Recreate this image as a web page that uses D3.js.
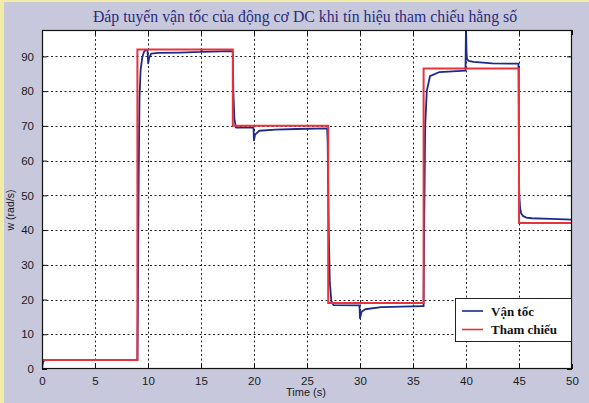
<!DOCTYPE html>
<html>
<head>
<meta charset="utf-8">
<script src="https://cdn.jsdelivr.net/npm/d3@7"></script>
<style>
  html, body { margin: 0; padding: 0; background: #c7c8dc; }
  svg { display: block; }
</style>
</head>
<body>
<svg id="chart" width="589" height="403"></svg>
<script>
// Measured motor speed (rad/s) against time (s)
const speedTime = [0, 0.1, 0.25, 9.0, 9.05, 9.12, 9.2, 9.3, 9.45, 9.6, 9.75, 9.95,
  10.02, 10.1, 10.3, 11, 13, 15, 15.05, 15.15, 17.8,
  18.0, 18.05, 18.15, 18.3, 19.95, 20.0, 20.1, 20.5, 22, 24, 26.9,
  26.95, 27.05, 27.15, 27.3, 27.5, 29.95, 30.0, 30.15, 30.5, 32, 35.9,
  36.0, 36.05, 36.15, 36.3, 36.6, 37.5, 39.95, 40.0, 40.05, 40.1, 40.25, 40.7, 42.5, 44.95,
  45.0, 45.03, 45.1, 45.2, 45.4, 45.7, 46.2, 48, 50];
const speedValue = [0, 2.0, 2.6, 2.6, 20, 55, 78, 86, 89.5, 91.2, 91.8, 91.8,
  88, 89.5, 90.8, 91.0, 91.1, 91.3, 91.8, 91.3, 91.5,
  91.4, 80, 72, 69.5, 69.5, 65.8, 67.5, 68.6, 68.9, 69.1, 69.3,
  65, 40, 25, 19.5, 18.4, 18.3, 14.6, 16.5, 17.2, 17.8, 18.1,
  18.1, 40, 70, 80, 84.3, 85.5, 85.9, 99, 91, 89.2, 88.7, 88.4, 88.0, 87.9,
  53.7, 50, 46.5, 44.8, 44.0, 43.6, 43.4, 43.2, 43.0];

// Constant reference setpoints, each holding until the next breakpoint
const refTime = [0, 9, 18, 27, 36, 45, 50];
const refValue = [2.6, 92, 70, 19, 86.5, 42, 42];

const xTicks = [0, 5, 10, 15, 20, 25, 30, 35, 40, 45, 50];
const yTicks = [0, 10, 20, 30, 40, 50, 60, 70, 80, 90];

const titleText = "Đáp tuyến vận tốc của động cơ DC khi tín hiệu tham chiếu hằng số";
const xLabel = "Time (s)";
const yLabel = "w (rad/s)";
const legendNames = ["Vận tốc", "Tham chiếu"];
const lineColors = ["#1c2a88", "#e8323c"];

const svg = d3.select("#chart");
const W = 589, H = 403;
const m = { left: 42, right: 17, top: 30, bottom: 34 };
const x0 = m.left, x1 = W - m.right, y0 = H - m.bottom, y1 = m.top;

// Page background and the pale strip along the top/left edges
svg.append("rect").attr("width", W).attr("height", H).attr("fill", "#c7c8dc");
svg.append("rect").attr("x", 0).attr("y", 0).attr("width", 4).attr("height", H).attr("fill", "#f1eca6");
svg.append("rect").attr("x", 0).attr("y", 0).attr("width", W).attr("height", 2).attr("fill", "#f1eca6");

const x = d3.scaleLinear().domain([0, 50]).range([x0, x1]);
const y = d3.scaleLinear().domain([0, 97.6]).range([y0, y1]);

// Plot area
svg.append("rect").attr("x", x0).attr("y", y1).attr("width", x1 - x0).attr("height", y0 - y1)
  .attr("fill", "#ffffff");

svg.append("defs").append("clipPath").attr("id", "plotClip")
  .append("rect").attr("x", x0).attr("y", y1).attr("width", x1 - x0).attr("height", y0 - y1);

// Dotted grid
const grid = svg.append("g").attr("stroke", "#222").attr("stroke-width", 1).attr("stroke-dasharray", "2,2.5");
grid.selectAll("line.vx").data(xTicks.filter(d => d > 0 && d < 50)).join("line")
  .attr("x1", d => Math.round(x(d)) + 0.5).attr("x2", d => Math.round(x(d)) + 0.5)
  .attr("y1", y1).attr("y2", y0);
grid.selectAll("line.hy").data(yTicks.filter(d => d > 0)).join("line")
  .attr("y1", d => Math.round(y(d)) + 0.5).attr("y2", d => Math.round(y(d)) + 0.5)
  .attr("x1", x0).attr("x2", x1);

// Axes with inward ticks on all four sides
const tickFont = "Liberation Sans, Arial, sans-serif";
const xAxisB = d3.axisBottom(x).tickValues(xTicks).tickSizeInner(-5).tickSizeOuter(0).tickPadding(8);
const xAxisT = d3.axisTop(x).tickValues(xTicks).tickSizeInner(-5).tickSizeOuter(0).tickFormat("");
const yAxisL = d3.axisLeft(y).tickValues(yTicks).tickSizeInner(-5).tickSizeOuter(0).tickPadding(8);
const yAxisR = d3.axisRight(y).tickValues(yTicks).tickSizeInner(-5).tickSizeOuter(0).tickFormat("");

function styleAxis(g) {
  g.select(".domain").remove();
  g.selectAll(".tick line").attr("stroke", "#111");
  g.selectAll("text").attr("fill", "#1a1a1a").style("font-family", tickFont).style("font-size", "11.5px");
}
svg.append("g").attr("transform", `translate(0,${y0})`).call(xAxisB).call(styleAxis);
svg.append("g").attr("transform", `translate(0,${y1})`).call(xAxisT).call(styleAxis);
svg.append("g").attr("transform", `translate(${x0},0)`).call(yAxisL).call(styleAxis);
svg.append("g").attr("transform", `translate(${x1},0)`).call(yAxisR).call(styleAxis);

// Data lines
const plot = svg.append("g").attr("clip-path", "url(#plotClip)");
const speedPts = speedTime.map((t, i) => [t, speedValue[i]]);
const refPts = refTime.map((t, i) => [t, refValue[i]]);

plot.append("path").datum(speedPts)
  .attr("fill", "none").attr("stroke", lineColors[0]).attr("stroke-width", 1.8)
  .attr("stroke-linejoin", "round")
  .attr("d", d3.line().x(d => x(d[0])).y(d => y(d[1])));

plot.append("path").datum(refPts)
  .attr("fill", "none").attr("stroke", lineColors[1]).attr("stroke-width", 2)
  .attr("d", d3.line().x(d => x(d[0])).y(d => y(d[1])).curve(d3.curveStepAfter));

// Frame
svg.append("rect").attr("x", x0 + 0.5).attr("y", y1 + 0.5).attr("width", x1 - x0 - 1).attr("height", y0 - y1 - 1)
  .attr("fill", "none").attr("stroke", "#111").attr("stroke-width", 1.2);

// Title and axis labels
svg.append("text").attr("x", 305).attr("y", 22).attr("text-anchor", "middle")
  .style("font-family", "Liberation Serif, Times New Roman, serif").style("font-size", "15.8px")
  .attr("fill", "#2b2b7e").text(titleText);

svg.append("text").attr("x", 306).attr("y", 396).attr("text-anchor", "middle")
  .style("font-family", tickFont).style("font-size", "11px").attr("fill", "#1a1a1a").text(xLabel);

svg.append("text").attr("transform", "translate(14,210) rotate(-90)").attr("text-anchor", "middle")
  .style("font-family", tickFont).style("font-size", "10.5px").attr("fill", "#1a1a1a").text(yLabel);

// Legend
const lg = svg.append("g");
const lx = 455, ly = 298, lw = 116, lh = 43;
lg.append("rect").attr("x", lx + 0.5).attr("y", ly + 0.5).attr("width", lw).attr("height", lh)
  .attr("fill", "#fff").attr("stroke", "#222").attr("stroke-width", 1);
legendNames.forEach((name, i) => {
  const cy = ly + 13 + i * 18.5;
  lg.append("line").attr("x1", lx + 7).attr("x2", lx + 28).attr("y1", cy).attr("y2", cy)
    .attr("stroke", lineColors[i]).attr("stroke-width", 1.6);
  lg.append("text").attr("x", lx + 36).attr("y", cy + 4.5)
    .style("font-family", "Liberation Serif, Times New Roman, serif").style("font-size", "13px")
    .style("font-weight", "bold").attr("fill", "#111").text(name);
});
</script>
</body>
</html>
